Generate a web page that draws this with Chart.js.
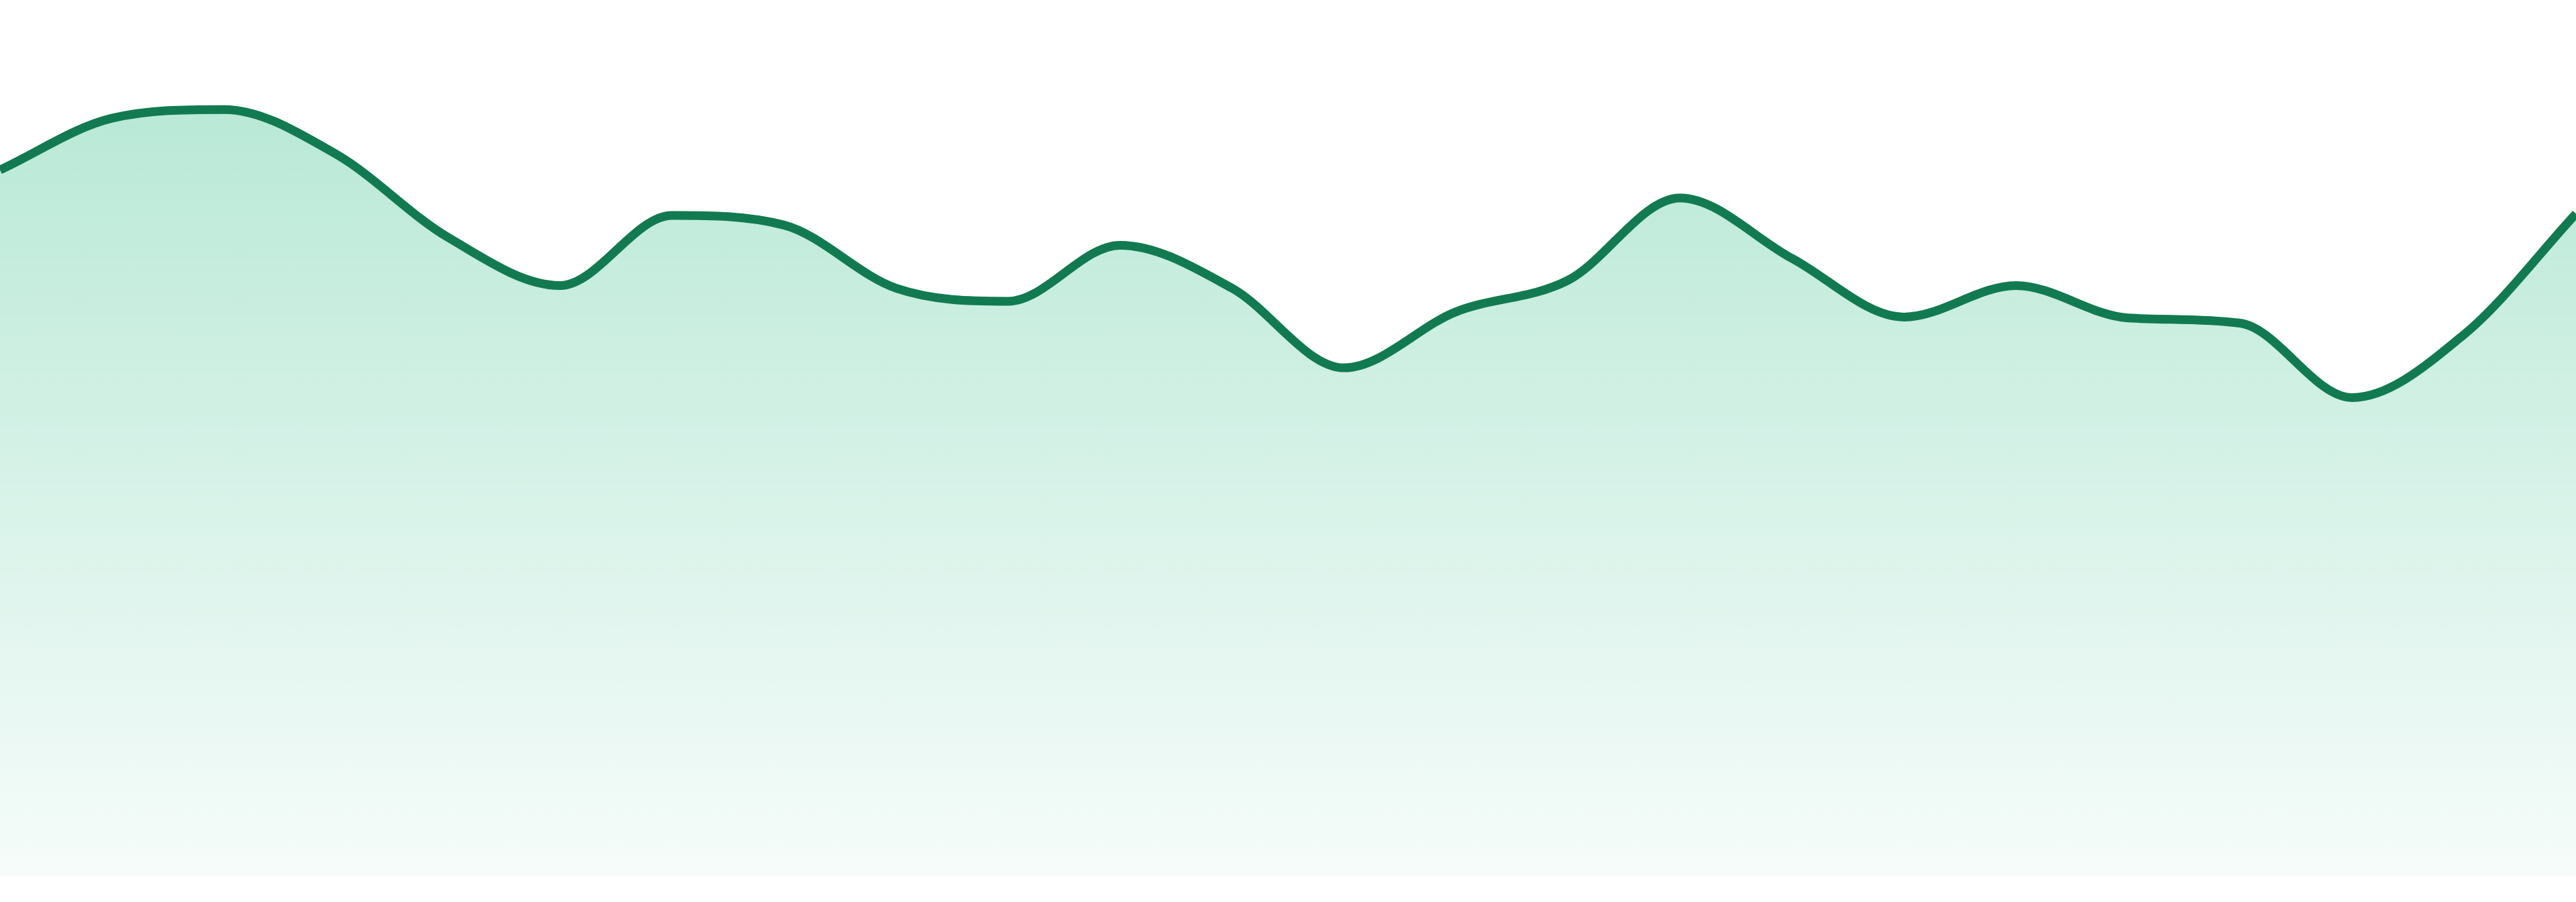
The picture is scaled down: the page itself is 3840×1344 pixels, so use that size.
<!DOCTYPE html>
<html>
<head>
<meta charset="utf-8">
<script src="https://cdn.jsdelivr.net/npm/chart.js@4.4.1/dist/chart.umd.min.js"></script>
<style>
  html, body { margin: 0; padding: 0; background: #ffffff; }
  #wrap { position: relative; width: 3840px; height: 1344px; }
</style>
</head>
<body>
<div id="wrap"><canvas id="grafico"></canvas></div>
<script>
// pontos da serie (um por intervalo)
const rotulos = ['1', '2', '3', '4', '5', '6', '7', '8', '9', '10', '11', '12',
  '13', '14', '15', '16', '17', '18', '19', '20', '21', '22', '23', '24'];
const valores = [80.6, 86.5, 87.5, 82.4, 72.9, 67.4, 75.4, 74.3, 67.1, 65.6, 72.0, 67.1,
  58.0, 64.4, 68.0, 77.4, 70.5, 63.8, 67.4, 63.7, 63.1, 54.6, 61.8, 75.6];
const eixoMin = 0;
const eixoMax = 100;

function gradienteArea(context) {
  const area = context.chart.chartArea;
  if (!area) return 'rgba(30, 183, 125, 0.3)';
  const g = context.chart.ctx.createLinearGradient(0, area.top, 0, area.bottom);
  g.addColorStop(0, 'rgba(30, 183, 125, 0.35)');
  g.addColorStop(1, 'rgba(30, 183, 125, 0.04)');
  return g;
}

const ctx = document.getElementById('grafico').getContext('2d');
const grafico = new Chart(ctx, {
  type: 'line',
  data: {
    labels: rotulos,
    datasets: [{
      data: valores,
      borderColor: '#127a51',
      borderWidth: 13,
      backgroundColor: gradienteArea,
      fill: 'start',
      pointRadius: 0,
      pointHoverRadius: 0,
      cubicInterpolationMode: 'monotone'
    }]
  },
  options: {
    responsive: true,
    maintainAspectRatio: false,
    animation: false,
    devicePixelRatio: 1,
    layout: { padding: { left: 0, right: 0, top: 0, bottom: 39 } },
    scales: {
      x: { display: false },
      y: { display: false, min: eixoMin, max: eixoMax }
    },
    plugins: {
      legend: { display: false },
      tooltip: { enabled: false }
    }
  }
});
</script>
</body>
</html>
